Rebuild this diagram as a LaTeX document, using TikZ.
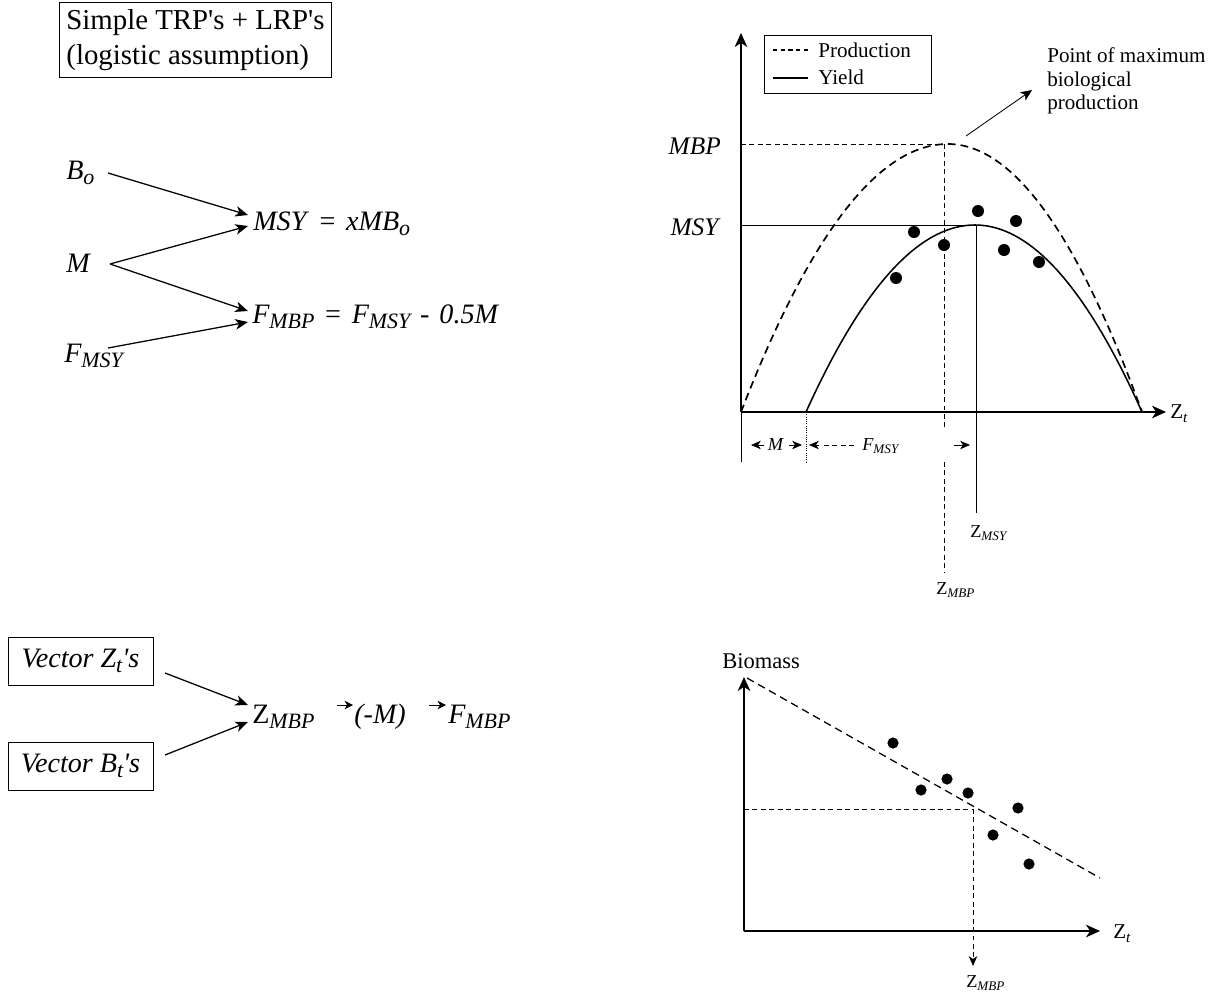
\documentclass[tikz,border=0pt]{standalone}
\usepackage{fontspec}
\setmainfont{Liberation Serif}[Ligatures=TeXOff]
\usepackage{graphicx}
\usetikzlibrary{arrows.meta,calc}
\newcommand\lo[1]{\raisebox{-0.42ex}{\scalebox{0.78}{#1}}}
\newcommand\los[1]{\raisebox{-0.42ex}{\scalebox{0.72}{#1}}}
\newcommand\eqs{\hspace{0.38em}=\hspace{0.38em}}
\begin{document}
\begin{tikzpicture}[x=0.025cm,y=-0.025cm,
  every node/.style={inner sep=0pt},
  big/.style={font=\fontsize{20}{24}\selectfont},
  lab/.style={font=\fontsize{18}{22}\selectfont},
  med/.style={font=\fontsize{15}{17}\selectfont},
  sml/.style={font=\fontsize{13}{15}\selectfont},
  arr/.style={-{Stealth[length=9pt,width=7.5pt,inset=2.5pt]}, line width=0.9pt},
  axis/.style={-{Stealth[length=10pt,width=9pt,inset=3pt]}, line width=0.9pt},
  dimtip/.style={-{Stealth[length=7pt,width=6pt,inset=2pt]}, line width=0.6pt},
  tiny/.style={-{Stealth[length=6pt,width=6pt,inset=1.8pt]}, line width=0.5pt},
  prod/.style={dash pattern=on 5.5pt off 3.5pt, line width=1.2pt},
  thin dash/.style={dash pattern=on 3.5pt off 2.5pt, line width=0.7pt},
  dot/.style={fill=black}]
\useasboundingbox (0,0) rectangle (1208,1000);

% ---------- top left ----------
\node[draw, line width=0.6pt, align=left, inner sep=5pt,
      font=\fontsize{20.5}{25}\selectfont, anchor=north west] (title) at (59,2)
  {Simple TRP's + LRP's\\(logistic assumption)};

\node[big, anchor=base west] (bo) at (66,179) {\textit{B\lo{o}}};
\node[big, anchor=base west] (m) at (66,272) {\textit{M}};
\node[big, anchor=base west] (fmsy) at (64,362) {\textit{F\lo{MSY}}};
\node[big, anchor=base west] (msy) at (253,230) {\textit{MSY}\eqs\textit{xMB\lo{o}}};
\node[big, anchor=base west] (fmbp) at (252,323) {\textit{F\lo{MBP}}\eqs\textit{F\lo{MSY}}\hspace{0.35em}-\hspace{0.35em}\textit{0.5M}};

\coordinate (bo-o) at (108,173);
\coordinate (m-o) at (110,264);
\coordinate (f-o) at (108,348);
\coordinate (msy-a) at (248,215);
\coordinate (msy-b) at (248,226);
\coordinate (fmbp-a) at (248,311);
\coordinate (fmbp-b) at (248,322);
\draw[arr] (bo-o) -- (msy-a);
\draw[arr] (m-o) -- (msy-b);
\draw[arr] (m-o) -- (fmbp-a);
\draw[arr] (f-o) -- (fmbp-b);

% ---------- top right chart ----------
\coordinate (o1) at (741,412);
\draw[axis] (o1) -- (741,33);
\draw[axis] (o1) -- (1166,412);
\node[med, anchor=west] (zt1) at (1170,414) {Z\los{\textit{t}}};

\node[draw, line width=0.6pt, anchor=north west, minimum width=4.175cm, minimum height=1.45cm] (legend) at (764,35) {};
\draw[line width=0.8pt, dash pattern=on 3pt off 2.5pt] (773,50) -- (808,50);
\node[med, anchor=west] (lp) at (818,50) {Production};
\draw[line width=0.8pt] (773,78) -- (808,78);
\node[med, anchor=west] (ly) at (818,77) {Yield};

\node[font=\fontsize{15}{17}\selectfont, align=left, anchor=north west] (pmax) at (1047,47)
  {Point of maximum\\biological\\production};
\coordinate (pk) at (966,136);
\draw[-{Stealth[length=8pt,width=7pt,inset=2pt]}, line width=0.6pt] (pk) -- (1032,90);

\node[lab, anchor=east] (mbpl) at (721,146) {\textit{MBP}};
\node[lab, anchor=east] (msyl) at (721,227) {\textit{MSY}};

\draw[thin dash] (741,144) -- (944,144);
\draw[thin dash] (944,144) -- (944,430);
\draw[thin dash] (944,462) -- (944,573);
\draw[line width=0.7pt] (741,225) -- (976,225) -- (976,513);

% production curve
\draw[prod] plot[domain=741:948, samples=50] (\x, {144+268*((\x-948)/207)^2})
  -- plot[domain=948:1142, samples=50] (\x, {144+268*((\x-948)/194)^2});
% yield curve
\draw[line width=1.1pt] plot[domain=806:975, samples=50] (\x, {225+187*((\x-975)/169)^2})
  -- plot[domain=975:1142, samples=50] (\x, {225+187*((\x-975)/167)^2});

\foreach \p in {(896,278),(914,232),(944,245),(978,211),(1016,221),(1004,250),(1039,262)}
  \fill[dot] \p circle[radius=0.15cm];

% dimension lines
\draw[line width=0.7pt] (741,412) -- (741,462);
\draw[densely dotted, line width=0.6pt] (806,412) -- (806,462);
\draw[dimtip] (764,445) -- (751,445);
\draw[dimtip] (789,445) -- (802,445);
\draw[dimtip] (819,445) -- (809,445);
\draw[dimtip] (954,445) -- (970,445);
\node[sml, anchor=center] (mdim) at (776,445) {\textit{M}};
\draw[thin dash, line width=0.5pt] (824,445) -- (856,445);
\node[sml, anchor=west] (fdim) at (862,446) {\textit{F\los{MSY}}};

\node[sml, anchor=north west] (zmsy) at (970,525) {Z\los{\textit{MSY}}};
\node[sml, anchor=north west] (zmbp1) at (936,582) {Z\los{\textit{MBP}}};

% ---------- bottom left ----------
\node[draw, line width=0.6pt, big, minimum width=3.625cm, minimum height=1.2cm] (vz) at (80.5,661) {\textit{Vector Z\lo{t}'s}};
\node[draw, line width=0.6pt, big, minimum width=3.625cm, minimum height=1.2cm] (vb) at (80.5,766) {\textit{Vector B\lo{t}'s}};
\node[big, anchor=base west] (zm) at (252,723) {Z\lo{\textit{MBP}}};
\node[big, anchor=base west] (mm) at (354,723) {\textit{(-M)}};
\node[big, anchor=base west] (fm) at (448,723) {\textit{F\lo{MBP}}};
\coordinate (vz-o) at (165,673);
\coordinate (vb-o) at (165,755);
\coordinate (zm-a) at (248,705);
\coordinate (zm-b) at (248,722);
\draw[arr] (vz-o) -- (zm-a);
\draw[arr] (vb-o) -- (zm-b);
\draw[tiny] (337,705) -- (353,705);
\draw[tiny] (429,705) -- (446,705);

% ---------- bottom right chart ----------
\coordinate (o2) at (744,931);
\draw[axis] (o2) -- (744,677);
\draw[axis] (o2) -- (1100,931);
\node[font=\fontsize{16}{19}\selectfont] (bio) at (761,661) {Biomass};
\node[med, anchor=west] (zt2) at (1113,934) {Z\los{\textit{t}}};
\draw[prod, line width=0.9pt] (747,678) -- (1100,878);
\draw[thin dash] (744,809) -- (973,809);
\draw[thin dash, -{Stealth[length=7pt,width=6pt,inset=2pt]}] (973,809) -- (973,966);
\node[sml, anchor=north west] (zmbp2) at (966,975) {Z\los{\textit{MBP}}};
\foreach \p in {(893,743),(947,779),(921,790),(968,793),(1018,808),(993,835),(1029,864)}
  \fill[dot] \p circle[radius=0.14cm];
\end{tikzpicture}
\end{document}
